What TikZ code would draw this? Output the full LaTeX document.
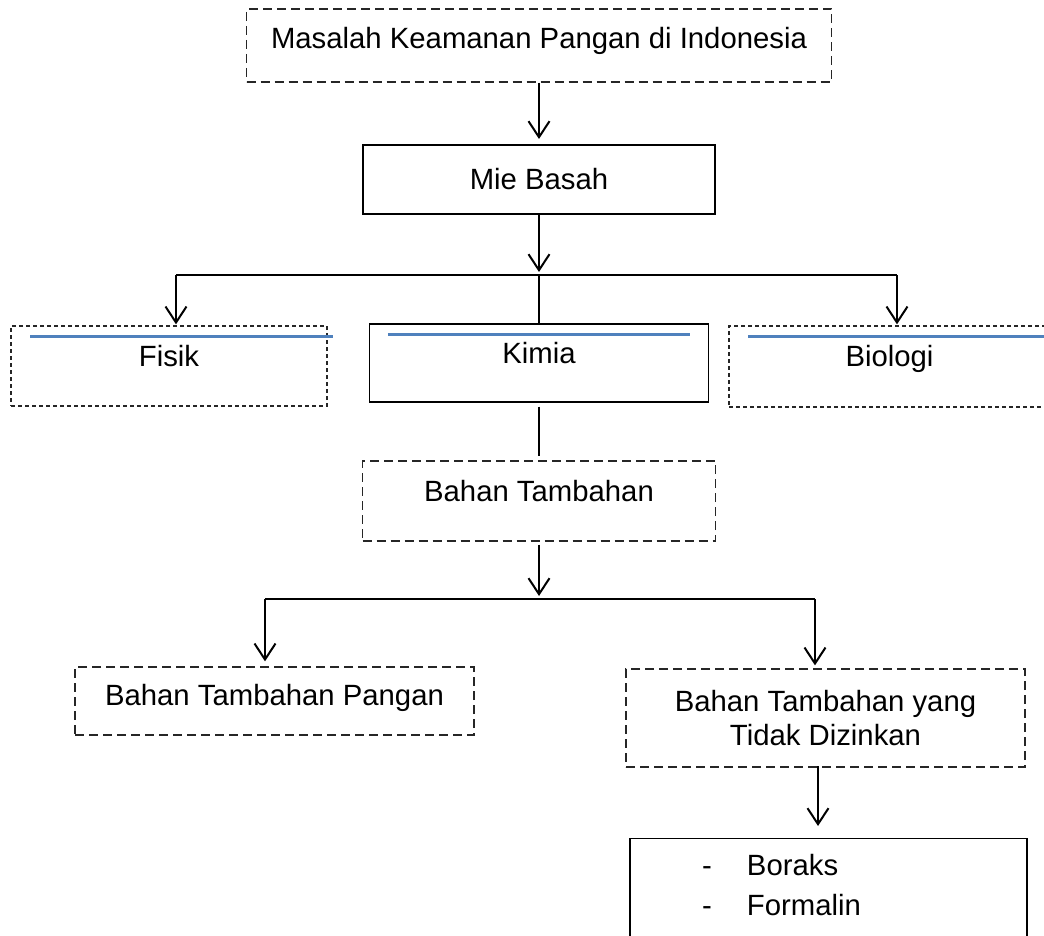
\documentclass[tikz,border=0pt]{standalone}
\usepackage{fontspec}
\setmainfont{Liberation Sans}
\usetikzlibrary{arrows.meta,positioning,calc}
\definecolor{ruleblue}{HTML}{4F81BD}

\begin{document}
\begin{tikzpicture}[x=1pt,y=-1pt,>={Straight Barb[length=16pt,width=21pt]},
            font=\fontsize{29.3}{34}\selectfont,
            plain box/.style={rectangle,draw,line width=1.3pt,inner sep=0pt},
            dash box/.style={rectangle,draw=black!85,line width=1.3pt,
            dash pattern=on 9pt off 5pt,inner sep=0pt},
            fine dash/.style={dash pattern=on 4pt off 3pt},
            mid text/.style={text height=21pt,text depth=21pt},
            link/.style={line width=2pt},
            blue rule/.style={draw=ruleblue,line width=3pt}]

    \useasboundingbox (0,0) rectangle (1044,936);
    \clip (0,0) rectangle (1044,936);

    \node[dash box,text height=21pt,text depth=15pt,minimum width=585pt,minimum height=73pt] (Masalah) at (539,45.5) {Masalah Keamanan Pangan di Indonesia};
    \node[plain box,line width=2pt,minimum width=352pt,minimum height=69pt] (MieBasah) at (539,179.5) {Mie Basah};

    \node[dash box,fine dash,mid text,minimum width=316pt,minimum height=80pt] (Fisik) at (169,366) {Fisik};
    \node[plain box,mid text,minimum width=339pt,minimum height=78pt] (Kimia) at (539,363) {Kimia};
    \node[dash box,fine dash,mid text,minimum width=321pt,minimum height=81pt] (Biologi) at (889.5,366.5) {Biologi};

    \node[dash box,mid text,minimum width=353pt,minimum height=80pt] (BahanTambahan) at (539,501) {Bahan Tambahan};

    \node[dash box,text height=21pt,text depth=13pt,minimum width=399pt,minimum height=68pt] (BahanPangan) at (274.5,701) {Bahan Tambahan Pangan};
    \node[dash box,align=center,minimum width=399pt,minimum height=98pt] (TidakDizinkan) at (825.5,718) {Bahan Tambahan yang\\Tidak Dizinkan};

    \node[plain box,anchor=north,align=left,text width=357pt,inner xsep=20pt,inner ysep=16pt,text depth=50pt] (BoraksFormalin) at (828.5,838)
        {\hspace*{52pt}\makebox[45pt][l]{-}Boraks\\[6pt]\hspace*{52pt}\makebox[45pt][l]{-}Formalin};

    % blue rules in the three kinds
    \draw[blue rule] ($(Fisik.north west)+(20,11)$) -- ($(Fisik.north east)+(5,11)$);
    \draw[blue rule] ($(Kimia.north west)+(19,11)$) -- ($(Kimia.north east)+(-19,11)$);
    \draw[blue rule] ($(Biologi.north west)+(20,11)$) -- ($(Biologi.north east)+(0,11)$);

    \coordinate (BusLeft) at (176,275);
    \coordinate (BusMid) at (539,275);
    \coordinate (BusRight) at (897,275);
    \coordinate (LowLeft) at (265,599);
    \coordinate (LowMid) at (539,599);
    \coordinate (LowRight) at (815,599);
    \coordinate (DropBottom) at (818,766);

    \draw [->,link,shorten >=5pt] (Masalah) -- (MieBasah);
    \draw [->,link,shorten >=3pt] (MieBasah) -- (BusMid);
    \draw [link] (BusLeft) -- (BusRight);
    \draw [->,link,shorten >=1pt] (BusLeft) -- (BusLeft |- Fisik.north);
    \draw [->,link,shorten >=1pt] (BusRight) -- (BusRight |- Biologi.north);
    \draw [link] (BusMid) -- (Kimia);

    \draw [link,shorten <=4pt,shorten >=4pt] (Kimia) -- (BahanTambahan);
    \draw [->,link,shorten <=3pt,shorten >=3pt] (BahanTambahan) -- (LowMid);
    \draw [link] (LowLeft) -- (LowRight);
    \draw [->,link,shorten >=5pt] (LowLeft) -- (LowLeft |- BahanPangan.north);
    \draw [->,link,shorten >=3pt] (LowRight) -- (LowRight |- TidakDizinkan.north);
    \draw [->,link,shorten >=12pt] (DropBottom) -- (DropBottom |- BoraksFormalin.north);
\end{tikzpicture}
\end{document}
